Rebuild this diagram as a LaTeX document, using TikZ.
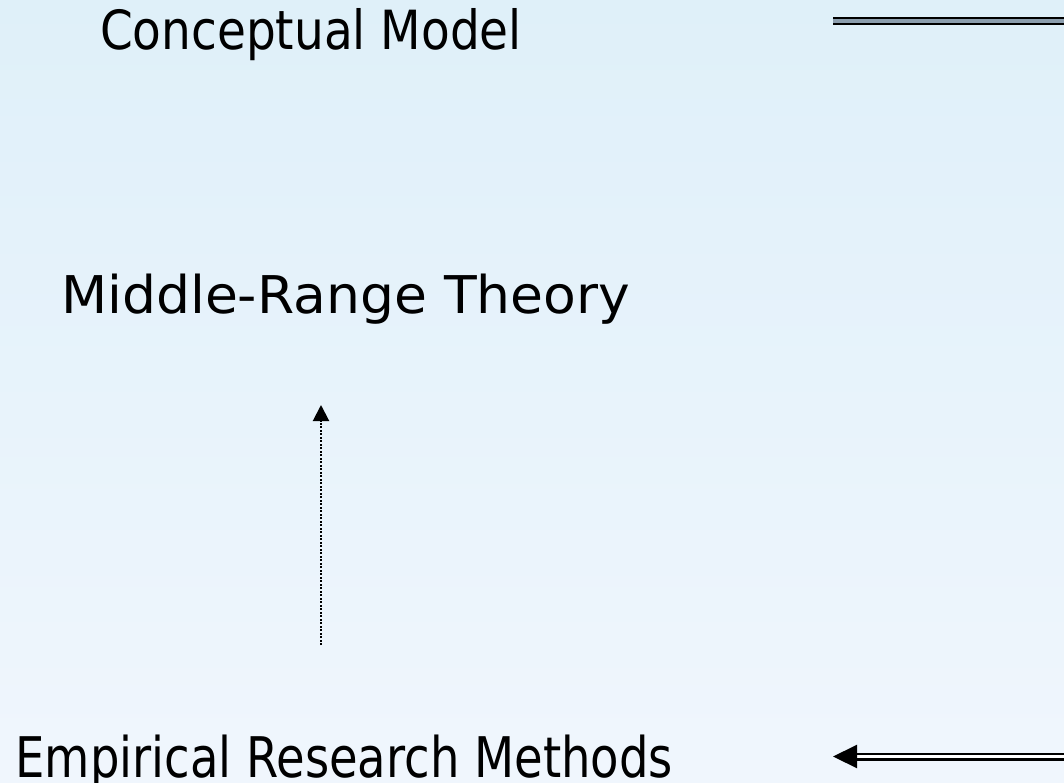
\documentclass[tikz,border=0pt]{standalone}
\usepackage{fontspec}
\setmainfont{DejaVu Sans}
\usetikzlibrary{arrows.meta}

\definecolor{bgtop}{RGB}{223,240,249}
\definecolor{bgbot}{RGB}{240,246,253}
\definecolor{midgray}{RGB}{140,158,174}

\tikzset{
  lbl/.style 2 args={inner sep=0pt,outer sep=0pt,anchor=base west,
    font=\fontsize{#1pt}{#1pt}\selectfont\addfontfeature{FakeStretch=#2}},
  dblline/.style={line width=2.2pt,double distance=3.6pt},
}

\begin{document}
\begin{tikzpicture}[x=1pt,y=-1pt,line join=miter]

% background
\shade[top color=bgtop,bottom color=bgbot] (0,0) rectangle (1064,783);
\useasboundingbox (0,0) rectangle (1064,783);

% texts
\node[lbl={54}{0.87}] (concept) at (100,50) {Conceptual Model};
\node[lbl={52}{1.03}] (theory) at (61,313) {Middle-Range Theory};
\node[lbl={56}{0.83}] (empiric) at (15.5,777) {Empirical Research Methods};

% free ends of the connectors
\coordinate (cmL) at (833,21);
\coordinate (cmR) at (1066,21);
\coordinate (emL) at (833,756.5);
\coordinate (emR) at (1066,756.5);
\coordinate (dotB) at (321,645);
\coordinate (dotT) at (321,405);

% double line at the top
\draw[dblline,double=midgray] (cmL) -- (cmR);

% double arrow at the bottom
\draw[dblline,double=white,-{Triangle[length=24pt,width=23pt]}] (emR) -- (emL);

% dotted arrow upwards
\draw[line width=2pt,dash pattern=on 2pt off 1.5pt,
  -{Triangle[length=16pt,width=16pt]}] (dotB) -- (dotT);

\end{tikzpicture}
\end{document}
